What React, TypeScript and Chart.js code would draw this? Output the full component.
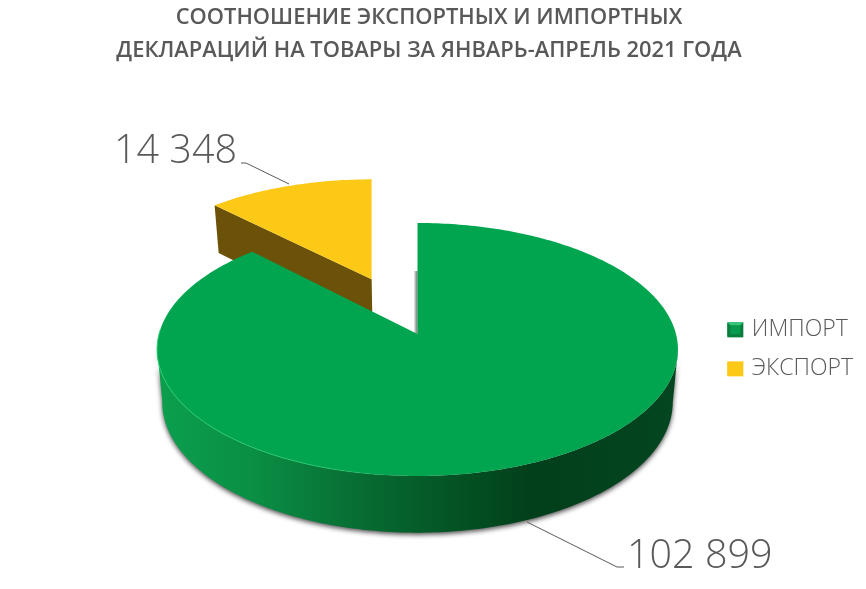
import React, { useEffect, useRef } from "react";
import { Chart, registerables } from "chart.js";

Chart.register(...registerables);

const categories = ["ИМПОРТ", "ЭКСПОРТ"];
const declarations = [102899, 14348];
const titleLines = ["СООТНОШЕНИЕ ЭКСПОРТНЫХ И ИМПОРТНЫХ", "ДЕКЛАРАЦИЙ НА ТОВАРЫ ЗА ЯНВАРЬ-АПРЕЛЬ 2021 ГОДА"];
const sliceColors = ["#01A550", "#FCC917"];
const wallColors = ["#034a20", "#6B5208"];
const TEXT = "#595959";

// projection of the pie's plane
const CX = 417.5, CY = 334, RX = 258.5, RY = 124.6, K = 0.1224;
const EXPLODE = [0, 0.5];

type Pt = [number, number];
function project(theta: number, r: number, e: number, mid: number): Pt {
  const yOff = -e * Math.cos(mid);
  const yg = -r * Math.cos(theta) + yOff;
  const w = 1 - K * yg;
  const w0 = 1 - K * yOff;
  return [CX + (RX * r * Math.sin(theta)) / w + (RX * e * Math.sin(mid)) / w0, CY + (RY * yg) / w];
}
function lower(p: Pt): Pt {
  return [CX + 0.98 * (p[0] - CX), CY + 52 + 1.033 * (p[1] - CY)];
}
function trace(ctx: CanvasRenderingContext2D, pts: Pt[]) {
  ctx.beginPath();
  pts.forEach((p, i) => (i ? ctx.lineTo(p[0], p[1]) : ctx.moveTo(p[0], p[1])));
}
function arcPoints(a: number, b: number, e: number, mid: number): Pt[] {
  const n = Math.max(2, Math.ceil(Math.abs(b - a) * 60));
  const out: Pt[] = [];
  for (let i = 0; i <= n; i++) out.push(project(a + ((b - a) * i) / n, 1, e, mid));
  return out;
}

const pie3d = {
  id: "pie3d",
  beforeDatasetDraw() {
    return false;
  },
  beforeDatasetsDraw(chart: any) {
    const ctx: CanvasRenderingContext2D = chart.ctx;
    const arcs = chart.getDatasetMeta(0).data;
    const slices = arcs.map((el: any, i: number) => {
      const a = el.startAngle + Math.PI / 2;
      const b = el.endAngle + Math.PI / 2;
      const e = EXPLODE[i];
      const mid = (a + b) / 2;
      const tip = project(0, 0, e, mid);
      return { a, b, e, mid, tip, rim: arcPoints(a, b, e, mid), i };
    });
    ctx.save();
    // exploded slice first, the large slice overlaps it
    const ex = slices[1];
    const cut = [ex.tip, ex.rim[0], lower(ex.rim[0]), lower(ex.tip)] as Pt[];
    trace(ctx, cut);
    ctx.closePath();
    ctx.fillStyle = wallColors[1];
    ctx.fill();
    trace(ctx, [ex.tip, ...ex.rim]);
    ctx.closePath();
    ctx.fillStyle = sliceColors[1];
    ctx.fill();

    const gr = slices[0];
    // shadow cast beside the vertical cut
    const sh = ctx.createLinearGradient(gr.tip[0] - 4, 0, gr.tip[0], 0);
    sh.addColorStop(0, "rgba(60,60,60,0)");
    sh.addColorStop(1, "rgba(60,60,60,0.75)");
    ctx.fillStyle = sh;
    ctx.fillRect(gr.tip[0] - 4, gr.tip[1] - 63, 4, 63);

    // front wall: between the silhouette's left and right extremes
    const rimX = gr.rim.map((p: Pt) => p[0]);
    const iR = rimX.indexOf(Math.max(...rimX));
    const iL = rimX.indexOf(Math.min(...rimX));
    const front = gr.rim.slice(iR, iL + 1) as Pt[];
    const wall = [...front, ...[...front].reverse().map(lower)] as Pt[];
    const g = ctx.createLinearGradient(158, 0, 678, 0);
    g.addColorStop(0, "#0b9f4e");
    g.addColorStop(0.18, "#0a8f45");
    g.addColorStop(0.4, "#076b31");
    g.addColorStop(0.6, "#034f22");
    g.addColorStop(0.72, "#023f1b");
    g.addColorStop(1, "#034620");
    ctx.save();
    ctx.shadowColor = "rgba(0,0,0,0.7)";
    ctx.shadowBlur = 5;
    ctx.shadowOffsetX = 0;
    ctx.shadowOffsetY = 2;
    trace(ctx, wall);
    ctx.closePath();
    ctx.fillStyle = g;
    ctx.fill();
    ctx.restore();

    trace(ctx, [gr.tip, ...gr.rim]);
    ctx.closePath();
    ctx.fillStyle = sliceColors[0];
    ctx.fill();

    // light rim on the lit side
    const hl = ctx.createLinearGradient(158, 0, 400, 0);
    hl.addColorStop(0, "rgba(40,210,115,0.9)");
    hl.addColorStop(0.7, "rgba(40,210,115,0.7)");
    hl.addColorStop(1, "rgba(40,210,115,0)");
    trace(ctx, arcPoints((180 * Math.PI) / 180, (272 * Math.PI) / 180, 0, gr.mid));
    ctx.strokeStyle = hl;
    ctx.lineWidth = 1;
    ctx.stroke();
    ctx.restore();
  },
  afterDraw(chart: any) {
    const ctx: CanvasRenderingContext2D = chart.ctx;
    const format = (v: number) => String(v).replace(/\B(?=(\d{3})+$)/g, " ");
    const labels: { idx: number; x: number; y: number; size: number; line: Pt[] }[] = [
      { idx: 0, x: 627, y: 568, size: 39.5, line: [[527, 522], [617, 567], [624, 567]] },
      { idx: 1, x: 114, y: 163, size: 39.5, line: [[289, 184], [246, 163], [241, 163]] },
    ];
    ctx.save();
    ctx.fillStyle = TEXT;
    ctx.strokeStyle = TEXT;
    ctx.lineWidth = 1;
    ctx.textBaseline = "alphabetic";
    ctx.textAlign = "left";
    for (const l of labels) {
      ctx.font = `300 ${l.size}px "Open Sans"`;
      ctx.fillText(format(declarations[l.idx]), l.x, l.y);
      trace(ctx, l.line);
      ctx.stroke();
    }
    // legend swatches, the first one bevelled
    const boxes = chart.legend?.legendHitBoxes ?? [];
    boxes.forEach((box: any, i: number) => {
      const w = 16, h = 15;
      const x = box.left, y = box.top + (box.height - h) / 2;
      ctx.fillStyle = i === 0 ? "#0a7d3d" : sliceColors[i];
      ctx.fillRect(x, y, w, h);
      if (i === 0) {
        ctx.fillStyle = "#0a9a4c";
        ctx.fillRect(x + 3, y + 3, w - 6, h - 6);
        ctx.fillStyle = "#35c77c";
        ctx.beginPath();
        ctx.moveTo(x, y);
        ctx.lineTo(x + w, y);
        ctx.lineTo(x + w - 3, y + 3);
        ctx.lineTo(x + 3, y + 3);
        ctx.closePath();
        ctx.fill();
      }
    });
    ctx.restore();
  },
};

export default function App() {
  const ref = useRef<HTMLCanvasElement>(null);
  useEffect(() => {
    const chart = new Chart(ref.current!, {
      type: "pie",
      data: {
        labels: categories,
        datasets: [{ data: declarations, backgroundColor: sliceColors, borderWidth: 0 }],
      },
      options: {
        animation: false,
        responsive: false,
        layout: { padding: { right: 3, top: 0, bottom: 0, left: -5 } },
        plugins: {
          title: {
            display: true,
            text: titleLines,
            color: TEXT,
            font: { family: '"Open Sans"', size: 21.9, weight: "600", lineHeight: 1.5 },
            padding: { top: 1, bottom: 43 },
          },
          legend: {
            position: "right",
            fullSize: false,
            labels: {
              color: TEXT,
              boxWidth: 13,
              boxHeight: 13,
              padding: 16,
              font: { family: '"Open Sans"', size: 23, weight: "300" },
            },
          },
          tooltip: { enabled: false },
        },
      },
      plugins: [pie3d],
    } as any);
    return () => chart.destroy();
  }, []);
  return (
    <div style={{ position: "absolute", left: 0, top: 0, width: 866, height: 589, background: "#fff" }}>
      <canvas ref={ref} width={866} height={589} style={{ display: "block" }} />
    </div>
  );
}
